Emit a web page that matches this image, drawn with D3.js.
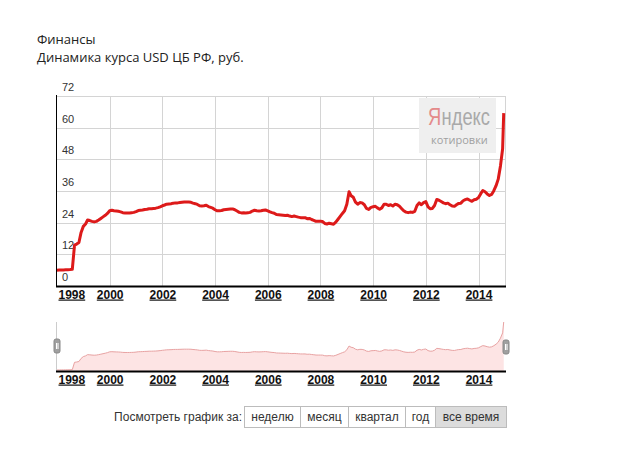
<!DOCTYPE html>
<html>
<head>
<meta charset="utf-8">
<script src="https://cdn.jsdelivr.net/npm/d3@7"></script>
<style>
  body { margin: 0; background: #fff; }
  svg { display: block; }
  .title { font-family: "Open Sans", "Noto Sans", sans-serif; font-size: 13px; fill: #222; }
  .yax text { font-family: "Liberation Sans", Arial, sans-serif; font-size: 11px; fill: #333; }
  .xax text { font-family: "Liberation Sans", Arial, sans-serif; font-size: 12px; font-weight: bold; fill: #111; text-decoration: underline; }
  .btn { font-family: "Liberation Sans", Arial, sans-serif; font-size: 12px; fill: #333; }
  .wm { font-family: "Liberation Sans", sans-serif; font-size: 24px; }
</style>
</head>
<body>
<svg id="main-svg"></svg>
<script>
// monthly USD/RUB rate (CBR), values at start of each month, from 1998-01
var startMonth = "1998-01";
var usdMonthly = [
  5.97, 6.02, 6.07, 6.10, 6.14, 6.18, 6.22, 6.30, 15.5, 15.9, 16.5, 20.3,
  22.6, 23.5, 25.0, 24.8, 24.5, 24.3, 24.5, 25.0, 25.6, 26.2, 26.8, 27.5,
  28.5, 28.7, 28.5, 28.4, 28.3, 28.1, 27.8, 27.7, 27.7, 27.7, 27.8, 27.9,
  28.2, 28.6, 28.7, 28.8, 29.0, 29.1, 29.3, 29.3, 29.4, 29.5, 29.7, 30.0,
  30.4, 30.7, 31.0, 31.1, 31.2, 31.4, 31.5, 31.5, 31.6, 31.7, 31.8, 31.8,
  31.8, 31.7, 31.4, 31.2, 30.9, 30.4, 30.3, 30.4, 30.6, 30.1, 29.8, 29.5,
  28.9, 28.5, 28.5, 28.6, 28.9, 29.0, 29.1, 29.2, 29.2, 28.9, 28.4, 27.9,
  27.7, 27.8, 27.7, 27.8, 27.9, 28.4, 28.7, 28.5, 28.4, 28.5, 28.7, 28.8,
  28.5, 28.1, 27.8, 27.6, 27.1, 27.0, 26.9, 26.8, 26.7, 26.8, 26.5, 26.3,
  26.5, 26.3, 26.1, 25.9, 25.9, 25.9, 25.5, 25.6, 25.2, 24.9, 24.5, 24.5,
  24.5, 24.4, 23.7, 23.5, 23.8, 23.6, 23.4, 24.2, 25.3, 26.4, 27.5, 28.5,
  31.0, 35.7, 34.2, 33.6, 31.8, 31.0, 31.6, 31.5, 30.8, 29.4, 29.0, 29.8,
  30.0, 30.2, 29.6, 29.1, 29.6, 31.0, 31.0, 30.5, 30.8, 30.3, 31.0, 30.8,
  30.2, 29.3, 28.5, 28.0, 27.8, 28.0, 27.9, 28.3, 30.5, 31.5, 30.8, 31.6,
  32.0, 30.0, 29.3, 29.4, 30.5, 32.8, 32.5, 32.0, 31.5, 31.2, 31.4, 30.8,
  30.3, 30.2, 30.8, 31.3, 31.4, 32.3, 32.7, 33.0, 32.5, 32.1, 32.7, 32.9,
  33.5, 35.0, 36.2, 35.7, 34.9, 34.3, 34.7, 36.1, 38.0, 40.5, 45.5, 52.0
];
// December 2014 spike
var tailDates = ["2014-12-16"];
var tailValues = [65.5];

var yTicks = [0, 12, 24, 36, 48, 60, 72];
var yearTicks = [1998, 2000, 2002, 2004, 2006, 2008, 2010, 2012, 2014];
var periods = ["неделю", "месяц", "квартал", "год", "все время"];

var width = 619, height = 454;
var svg = d3.select("#main-svg").attr("width", width).attr("height", height);

var parseMonth = d3.timeParse("%Y-%m"), parseDay = d3.timeParse("%Y-%m-%d");
var data = usdMonthly.map(function (v, i) {
  return { date: d3.timeMonth.offset(parseMonth(startMonth), i), value: v };
}).concat(tailDates.map(function (d, i) {
  return { date: parseDay(d), value: tailValues[i] };
}));

var pLeft = 57, pRight = 505, pTop = 96, pBottom = 286;
var x = d3.scaleTime().domain([parseDay("1998-01-01"), parseDay("2014-12-20")]).range([pLeft, pRight - 1]);
var y = d3.scaleLinear().domain([0, 72]).range([pBottom, pTop]);
var yearDates = yearTicks.map(function (yr) { return new Date(yr, 0, 1); });

// titles
svg.append("text").attr("class", "title").attr("x", 37).attr("y", 44).text("Финансы");
svg.append("text").attr("class", "title").attr("x", 37).attr("y", 62).text("Динамика курса USD ЦБ РФ, руб.");

// grid
var grid = svg.append("g").attr("stroke", "#d4d4d4").attr("stroke-width", 1);
grid.selectAll("line.h").data(yTicks.slice(1)).enter().append("line")
  .attr("x1", pLeft).attr("x2", pRight).attr("y1", function (d) { return Math.round(y(d)) + 0.5; })
  .attr("y2", function (d) { return Math.round(y(d)) + 0.5; });
grid.selectAll("line.v").data(yearDates.slice(1)).enter().append("line")
  .attr("y1", pTop).attr("y2", pBottom).attr("x1", function (d) { return Math.round(x(d)) + 0.5; })
  .attr("x2", function (d) { return Math.round(x(d)) + 0.5; });
grid.append("line").attr("x1", pRight + 0.5).attr("x2", pRight + 0.5).attr("y1", pTop).attr("y2", pBottom);

// watermark, logo squeezed horizontally to ~62px
var wm = svg.append("g");
wm.append("rect").attr("x", 419).attr("y", 98).attr("width", 77).attr("height", 55).attr("fill", "#efefef");
var logo = wm.append("g");
var ya = logo.append("text").attr("class", "wm").attr("x", 0).attr("y", 0).attr("fill", "#e48a8a").text("Я");
var yaW = ya.node().getComputedTextLength();
var rest = logo.append("text").attr("class", "wm").attr("x", yaW + 0.5).attr("y", 0).attr("fill", "#a9a9a9").text("ндекс");
var logoW = yaW + 0.5 + rest.node().getComputedTextLength();
logo.attr("transform", "translate(428,125) scale(" + (62 / logoW) + ",1)");
wm.append("text").attr("x", 431).attr("y", 144).attr("font-family", "'Open Sans', 'Liberation Sans', sans-serif")
  .attr("font-size", 11).attr("fill", "#a0a0a0").text("котировки");

// y axis labels inside the plot
var yax = svg.append("g").attr("class", "yax").attr("transform", "translate(" + pLeft + ",0)")
  .call(d3.axisRight(y).tickValues(yTicks).tickSize(0));
yax.select(".domain").remove();
yax.selectAll("text").attr("x", 5).attr("dy", "-0.5em");

// main line
var line = d3.line().x(function (d) { return x(d.date); }).y(function (d) { return y(d.value); });
svg.append("path").datum(data).attr("d", line).attr("fill", "none")
  .attr("stroke", "#dd1a1a").attr("stroke-width", 3).attr("stroke-linejoin", "round");

// axes lines
svg.append("line").attr("x1", pLeft - 0.5).attr("x2", pLeft - 0.5).attr("y1", pTop - 1).attr("y2", pBottom + 1).attr("stroke", "#000");
svg.append("line").attr("x1", pLeft - 1).attr("x2", pRight + 1).attr("y1", pBottom + 0.5).attr("y2", pBottom + 0.5).attr("stroke", "#000").attr("stroke-width", 2);

function yearLabels(yPos) {
  var g = svg.append("g").attr("class", "xax").attr("transform", "translate(0," + yPos + ")")
    .call(d3.axisBottom(x).tickValues(yearDates).tickSize(0).tickFormat(d3.timeFormat("%Y")));
  g.select(".domain").remove();
  g.selectAll(".tick").filter(function (d, i) { return i === 0; }).select("text")
    .attr("text-anchor", "start").attr("dx", 1);
}
yearLabels(pBottom + 1);

// navigator
var nTop = 322, nBottom = 371;
var ny = d3.scaleLinear().domain(d3.extent(data, function (d) { return d.value; })).range([nBottom - 1, nTop]);
var area = d3.area().x(function (d) { return x(d.date); }).y0(nBottom).y1(function (d) { return ny(d.value); });
var nline = d3.line().x(function (d) { return x(d.date); }).y(function (d) { return ny(d.value); });
svg.append("path").datum(data).attr("d", area).attr("fill", "#fde4e4");
svg.append("path").datum(data).attr("d", nline)
  .attr("fill", "none").attr("stroke", "#e8a2a2").attr("stroke-width", 1);
svg.append("line").attr("x1", pLeft - 0.5).attr("x2", pLeft - 0.5).attr("y1", nTop).attr("y2", nBottom).attr("stroke", "#ccc");
svg.append("line").attr("x1", pLeft - 1).attr("x2", pRight + 1).attr("y1", nBottom + 0.5).attr("y2", nBottom + 0.5).attr("stroke", "#000").attr("stroke-width", 2);
yearLabels(nBottom + 1);

[[pLeft - 3, 339], [pRight - 2, 340]].forEach(function (p) {
  var h = svg.append("g").attr("transform", "translate(" + p[0] + "," + p[1] + ")");
  h.append("rect").attr("width", 6).attr("height", 14).attr("rx", 2).attr("fill", "#a0a0a0").attr("stroke", "#888");
  h.append("line").attr("x1", 2.5).attr("x2", 2.5).attr("y1", 4).attr("y2", 10).attr("stroke", "#fff");
  h.append("line").attr("x1", 4).attr("x2", 4).attr("y1", 4).attr("y2", 10).attr("stroke", "#fff");
});

// period buttons
svg.append("text").attr("class", "btn").attr("x", 242).attr("y", 421).attr("text-anchor", "end").text("Посмотреть график за:");
var edges = [244, 300, 348, 405, 435, 506];
var bg = svg.append("g");
periods.forEach(function (p, i) {
  bg.append("rect").attr("x", edges[i] + 0.5).attr("y", 406.5).attr("width", edges[i + 1] - edges[i]).attr("height", 21)
    .attr("fill", i === periods.length - 1 ? "#dcdcdc" : "#fff").attr("stroke", "#bcbcbc");
  bg.append("text").attr("class", "btn").attr("x", (edges[i] + edges[i + 1]) / 2 + 0.5).attr("y", 421)
    .attr("text-anchor", "middle").text(p);
});
</script>
</body>
</html>
